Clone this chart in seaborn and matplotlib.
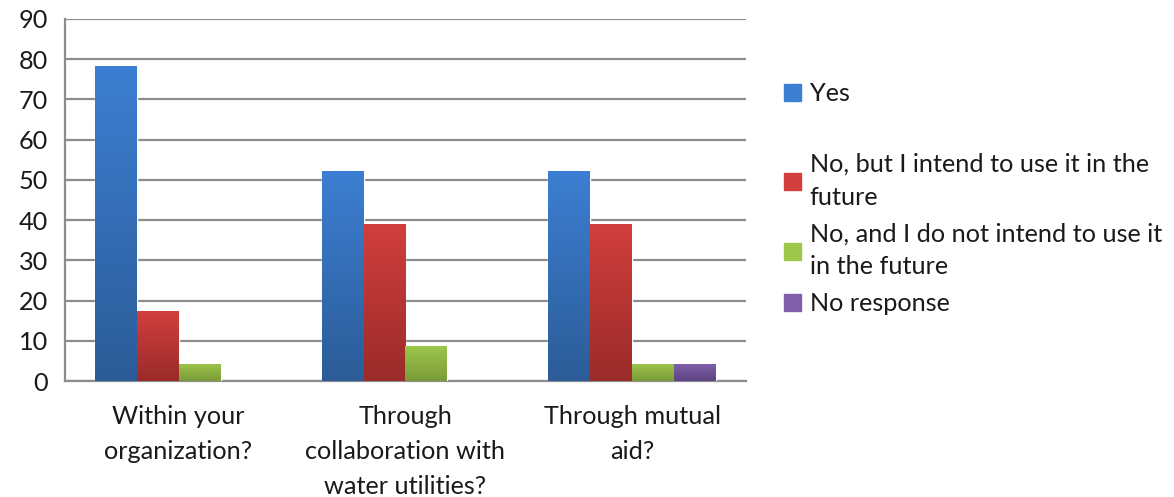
import numpy as np
import pandas as pd
import matplotlib
matplotlib.use("Agg")
import matplotlib.pyplot as plt
from matplotlib.patches import Patch
from matplotlib.colors import LinearSegmentedColormap
import seaborn as sns

# Survey results (percent of respondents)
categories = ["Within your\norganization?",
              "Through\ncollaboration with\nwater utilities?",
              "Through mutual\naid?"]
responses = ["Yes",
             "No, but I intend to use it in the\nfuture",
             "No, and I do not intend to use it\nin the future",
             "No response"]
yes_vals = [78.3, 52.2, 52.2]
intend_vals = [17.4, 39.1, 39.1]
no_intend_vals = [4.3, 8.7, 4.3]
no_response_vals = [0.0, 0.0, 4.3]
y_ticks = [0, 10, 20, 30, 40, 50, 60, 70, 80, 90]

# top (light) and bottom (dark) shades of each series
top_colors = ["#3c7fd2", "#d23f3c", "#9dc64b", "#8060ab"]
bottom_colors = ["#2c5c98", "#9a2b29", "#7a9b38", "#5e4483"]

series = [yes_vals, intend_vals, no_intend_vals, no_response_vals]
df = pd.DataFrame({
    "category": np.repeat(categories, len(responses)),
    "response": responses * len(categories),
    "value": [series[j][i] for i in range(len(categories)) for j in range(len(responses))],
})

sns.set_style("white")
plt.rcParams["font.family"] = ["Lato", "DejaVu Sans"]
FS = 18.2

fig = plt.figure(figsize=(11.74, 4.97), dpi=100)
ax = fig.add_axes([0.0554, 0.2334, 0.58, 0.7284])

sns.barplot(data=df, x="category", y="value", hue="response",
            order=categories, hue_order=responses,
            palette=top_colors, width=0.74, gap=0, saturation=1,
            legend=False, ax=ax, zorder=3)

# vertical gradient fill for each bar
for i, patch in enumerate(ax.patches):
    h = patch.get_height()
    if h <= 0:
        patch.set_visible(False)
        continue
    k = i // len(categories)
    cmap = LinearSegmentedColormap.from_list("g", [bottom_colors[k], top_colors[k]])
    x0 = patch.get_x()
    w = patch.get_width()
    grad = np.linspace(0, 1, 256).reshape(-1, 1)
    im = ax.imshow(grad, cmap=cmap, origin="lower", aspect="auto",
                   extent=(x0, x0 + w, 0, h), zorder=4)
    im.set_clip_path(patch)

ax.set_xlim(-0.5, 2.5)
ax.set_ylim(0, 90)
ax.set_yticks(y_ticks)
ax.set_xlabel("")
ax.set_ylabel("")

ax.yaxis.grid(True, color="#8c8c8c", linewidth=1.6, zorder=0)
ax.set_axisbelow(True)

for s in ["top", "right"]:
    ax.spines[s].set_visible(False)
for s in ["left", "bottom"]:
    ax.spines[s].set_color("#8c8c8c")
    ax.spines[s].set_linewidth(1.6)

ax.tick_params(axis="y", length=7, width=1.6, color="#8c8c8c",
               labelsize=FS, labelcolor="#1a1a1a", pad=5)
ax.set_xticks([0, 1, 2])
ax.set_xticklabels(categories, fontsize=FS, color="#1a1a1a", linespacing=1.65)
ax.tick_params(axis="x", length=0, pad=17)
ax.set_xticks([-0.5, 0.5, 1.5, 2.5], minor=True)
ax.tick_params(axis="x", which="minor", length=7, width=1.6, color="#8c8c8c")

# legend: first entry on its own, remaining entries stacked below
handles = [Patch(facecolor=c, edgecolor=c) for c in top_colors]
common = dict(frameon=False, fontsize=FS, handlelength=0.65, handleheight=0.65,
              handletextpad=0.35, borderaxespad=0, loc="upper left")
leg1 = fig.legend(handles[:1], responses[:1], bbox_to_anchor=(0.6595, 0.855), **common)
leg2 = fig.legend(handles[1:], responses[1:], bbox_to_anchor=(0.6595, 0.713),
                  labelspacing=0.55, **common)
for leg in (leg1, leg2):
    for t in leg.get_texts():
        t.set_color("#1a1a1a")
        t.set_linespacing(1.52)

fig.savefig("out.png", dpi=100)
